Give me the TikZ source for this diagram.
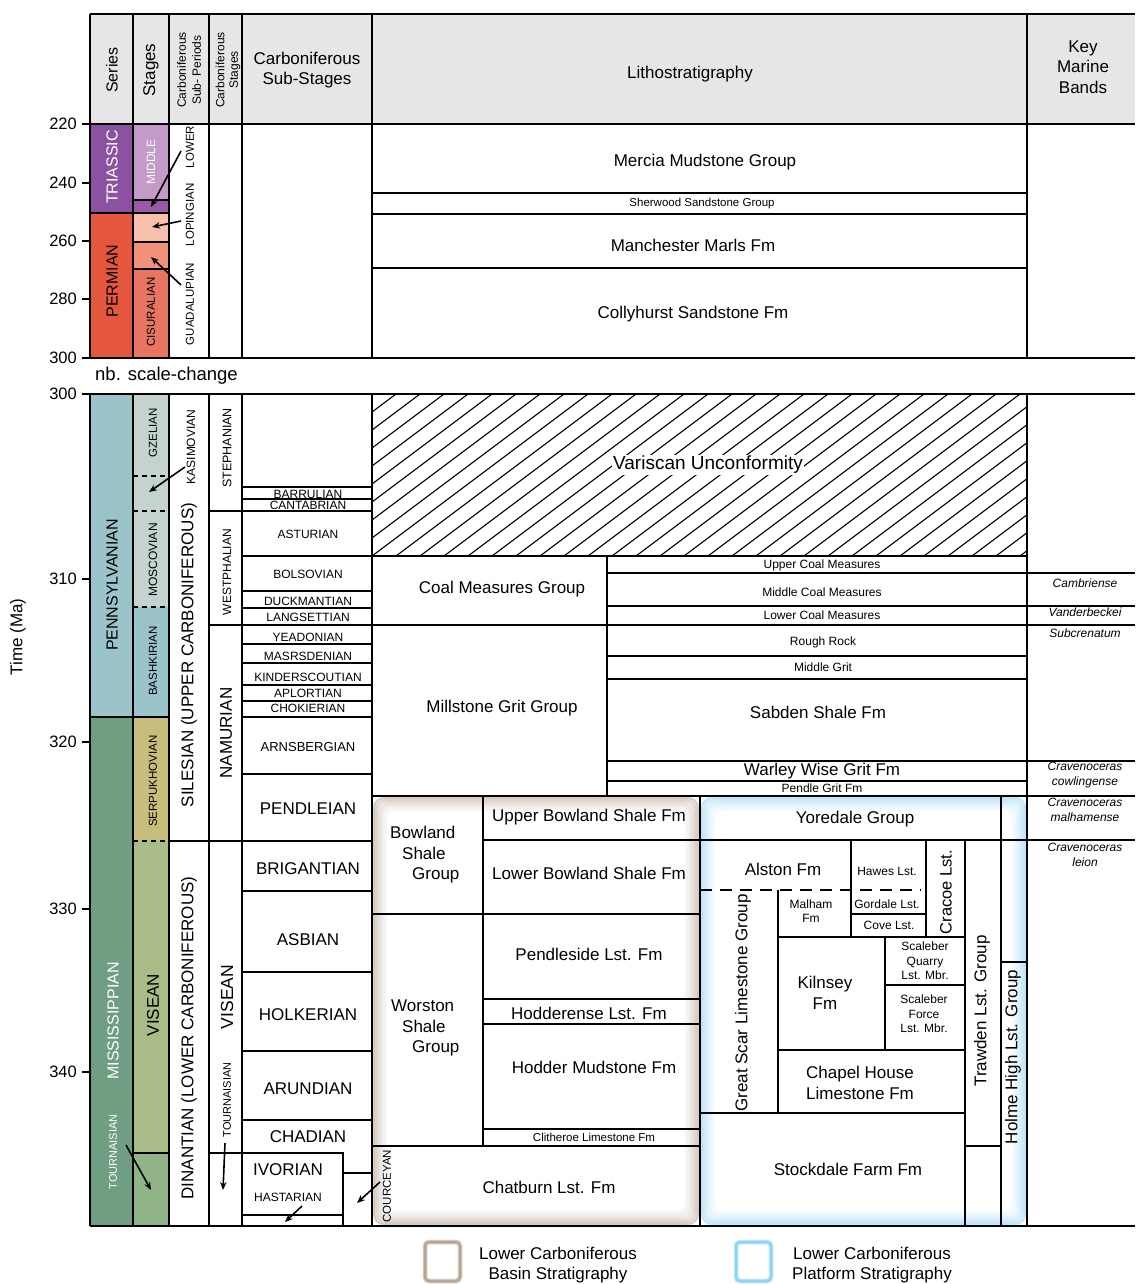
\documentclass[tikz,border=0pt]{standalone}
\usepackage{fontspec}
\setmainfont{Liberation Sans}
\usetikzlibrary{arrows.meta}
\definecolor{hdr}{HTML}{E6E6E6}
\definecolor{triS}{HTML}{8C52A1}
\definecolor{triM}{HTML}{C49AC9}
\definecolor{triL}{HTML}{9A5AA8}
\definecolor{perS}{HTML}{E5573D}
\definecolor{perL}{HTML}{F7BFAC}
\definecolor{perG}{HTML}{F2917A}
\definecolor{perC}{HTML}{E87562}
\definecolor{penn}{HTML}{9AC4CA}
\definecolor{gze}{HTML}{C5D3D0}
\definecolor{miss}{HTML}{6F9E83}
\definecolor{serp}{HTML}{C8BE7C}
\definecolor{vis}{HTML}{A9BB87}
\definecolor{tou}{HTML}{90B488}
\definecolor{basin}{HTML}{B8A490}
\definecolor{plat}{HTML}{8ED4F4}
\newcommand\FsBig{\fontsize{17}{20.5}\selectfont}
\newcommand\FsMid{\fontsize{16}{19}\selectfont}
\newcommand\FsSm{\fontsize{12}{14.5}\selectfont}
\newcommand\FsXs{\fontsize{11.5}{13.5}\selectfont}
\tikzset{
  ln/.style={line width=1.9pt,black},
  dots/.style={line width=1.9pt,black,dash pattern=on 5pt off 4pt},
  dsh/.style={line width=1.8pt,black,dash pattern=on 12pt off 8pt},
  hatchln/.style={line width=1.1pt,black},
  txtB/.style={inner sep=0pt,font=\FsBig},
  txtM/.style={inner sep=0pt,font=\FsMid},
  txtS/.style={inner sep=0pt,font=\FsSm},
  txtX/.style={inner sep=0pt,font=\FsXs},
  keyt/.style={inner sep=0pt,font=\FsSm\itshape,align=center},
  rot/.style={rotate=90},
  arw/.style={line width=1.6pt,-{Stealth[length=8pt,width=6.5pt]}},
}
\begin{document}
\begin{tikzpicture}[x=1pt,y=-1pt]
\useasboundingbox (0,0) rectangle (1135,1284);
\fill[white] (0,0) rectangle (1135,1284);
% ---------- fills ----------
\fill[hdr] (90,14) rectangle (1135,124);
\fill[triS] (90,124) rectangle (133,213);
\fill[perS] (90,213) rectangle (133,358);
\fill[triM] (133,124) rectangle (169,200);
\fill[triL] (133,200) rectangle (169,213);
\fill[perL] (133,213) rectangle (169,242);
\fill[perG] (133,242) rectangle (169,269);
\fill[perC] (133,269) rectangle (169,358);
\fill[penn] (90,394) rectangle (133,717);
\fill[gze] (133,394) rectangle (169,607);
\fill[penn] (133,607) rectangle (169,717);
\fill[miss] (90,717) rectangle (133,1226);
\fill[serp] (133,717) rectangle (169,841);
\fill[vis] (133,841) rectangle (169,1153);
\fill[tou] (133,1153) rectangle (169,1226);
% ---------- glows ----------
\foreach \i/\o in {0/0.55,1/0.45,2/0.36,3/0.28,4/0.2,5/0.13,6/0.07}{
  \draw[basin,line width=2.2pt,opacity=\o,rounded corners=10pt]
    ({374+2*\i},{798+2*\i}) rectangle ({698-2*\i},{1224-2*\i});
  \draw[plat,line width=2.2pt,opacity=\o,rounded corners=10pt]
    ({702+2*\i},{798+2*\i}) rectangle ({1025-2*\i},{1224-2*\i});
}
% ---------- hatch ----------
\begin{scope}
\clip (372,394) rectangle (1027,556);
\foreach \k in {-9,...,27}{
  \draw[hatchln] ({372+24*\k},556) -- ++(216,-162);
}
\end{scope}
% ---------- upper frame ----------
\draw[ln] (90,14) -- (1135,14);
\draw[ln] (82,124) -- (1135,124);
\foreach \x in {90,133,169,209,242,372,1027}{\draw[ln] (\x,14) -- (\x,358);}
\draw[ln] (82,183) -- (90,183) (82,241) -- (90,241) (82,299) -- (90,299);
\draw[ln] (82,358) -- (1135,358);
\draw[ln] (90,213) -- (169,213) (133,200) -- (169,200) (133,242) -- (169,242) (133,269) -- (169,269);
\draw[ln] (372,193) -- (1027,193) (372,214) -- (1027,214) (372,268) -- (1027,268);
% ---------- lower frame ----------
\draw[ln] (82,394) -- (1135,394);
\draw[ln] (90,1226) -- (1135,1226);
\foreach \x in {90,133,169,209,242,372,1027}{\draw[ln] (\x,394) -- (\x,1226);}
\draw[ln] (82,579) -- (90,579) (82,742) -- (90,742) (82,909) -- (90,909) (82,1072) -- (90,1072);
\draw[ln] (90,717) -- (169,717) (133,1153) -- (169,1153);
\draw[dots] (133,476) -- (169,476) (133,511) -- (169,511) (133,607) -- (169,607) (133,841) -- (169,841);
\draw[ln] (209,511) -- (372,511) (169,841) -- (372,841) (209,625) -- (1135,625);
\foreach \y in {487,499,556,591,608,644,663,685,701,717,774,891,972,1051,1120}{\draw[ln] (242,\y) -- (372,\y);}
\draw[ln] (209,1153) -- (343,1153) -- (343,1226) (242,1215) -- (343,1215) (343,1173) -- (372,1173);
% litho lower
\draw[ln] (372,556) -- (1027,556) (607,556) -- (607,796);
\draw[ln] (607,573) -- (1135,573) (607,606) -- (1135,606);
\draw[ln] (607,656) -- (1027,656) (607,679) -- (1027,679);
\draw[ln] (607,761) -- (1135,761) (607,781) -- (1027,781);
\draw[ln] (372,796) -- (1135,796);
% basin
\draw[ln] (483,796) -- (483,1146) (700,796) -- (700,1226);
\draw[ln] (483,840) -- (1135,840);
\draw[ln] (372,914) -- (700,914) (483,999) -- (700,999) (483,1024) -- (700,1024) (483,1129) -- (700,1129) (372,1146) -- (700,1146);
% platform
\draw[ln] (1001,796) -- (1001,1226) (1001,962) -- (1027,962);
\draw[ln] (851,840) -- (851,937) (926,840) -- (926,937) (965,840) -- (965,1226);
\draw[dsh] (700,890) -- (921,890);
\draw[ln] (778,890) -- (778,1113) (851,914) -- (926,914) (778,937) -- (965,937);
\draw[ln] (885,937) -- (885,1050) (885,985) -- (965,985) (778,1050) -- (965,1050);
\draw[ln] (700,1113) -- (965,1113) (965,1146) -- (1001,1146);
% ---------- header text ----------
\node[txtM,rot] (hSer) at (112,70) {Series};
\node[txtB,rot] (hStg) at (151,70) {Stages};
\node[inner sep=0pt,rot,align=center,font=\fontsize{12}{15}\selectfont] (hSubP) at (189,70) {Carboniferous\\Sub- Periods};
\node[inner sep=0pt,rot,align=center,font=\fontsize{12}{13.5}\selectfont] (hCStg) at (228,70) {Carboniferous\\Stages};
\node[txtB,align=center] (hSubS) at (307,70) {Carboniferous\\Sub-Stages};
\node[txtB] (hLit) at (690,74) {Lithostratigraphy};
\node[txtB,align=center] (hKey) at (1083,67) {Key\\Marine\\Bands};
% ---------- axis ----------
\foreach \y/\t [count=\n] in {124/220,183/240,241/260,299/280,358/300,394/300,579/310,742/320,909/330,1072/340}{
  \node[inner sep=0pt,anchor=east,font=\fontsize{16.5}{18}\selectfont] (ax\n) at (77,\y) {\t};
}
\node[inner sep=0pt,anchor=west,font=\fontsize{18.5}{20}\selectfont] (nb) at (95,376) {nb. scale-change};
\node[inner sep=0pt,rot,font=\fontsize{17}{20}\selectfont] (time) at (18,637) {Time (Ma)};
% ---------- series / stages ----------
\node[txtM,rot,text=white] (tTri) at (112,167) {TRIASSIC};
\node[txtM,rot] (tPer) at (112,281) {PERMIAN};
\node[txtS,rot,text=white] (tMid) at (151,162) {MIDDLE};
\node[txtX,rot] (tCis) at (151,312) {CISURALIAN};
\node[txtM,rot] (tPen) at (112,585) {PENNSYLVANIAN};
\node[txtM,rot,text=white] (tMis) at (113,1021) {MISSISSIPPIAN};
\node[inner sep=0pt,rot,text=white,font=\fontsize{11}{13}\selectfont] (tTouS) at (113,1152) {TOURNAISIAN};
\node[txtX,rot] (tGze) at (153,433) {GZELIAN};
\node[txtS,rot] (tMos) at (153,560) {MOSCOVIAN};
\node[txtX,rot] (tBas) at (153,661) {BASHKIRIAN};
\node[txtX,rot] (tSer) at (153,781) {SERPUKHOVIAN};
\node[txtB,rot] (tVis) at (153,1005) {VISEAN};
% sub-periods
\node[txtX,rot] (tLow) at (190,147) {LOWER};
\node[txtX,rot] (tLop) at (190,215) {LOPINGIAN};
\node[txtX,rot] (tGua) at (190,304) {GUADALUPIAN};
\node[txtS,rot] (tKas) at (191,447) {KASIMOVIAN};
\node[txtB,rot] (tSil) at (189,655) {SILESIAN (UPPER CARBONIFEROUS)};
\node[txtB,rot] (tDin) at (189,1038) {DINANTIAN (LOWER CARBONIFEROUS)};
% carboniferous stages
\node[inner sep=0pt,rot,font=\fontsize{12.5}{14}\selectfont] (tSte) at (227,448) {STEPHANIAN};
\node[txtS,rot] (tWes) at (227,572) {WESTPHALIAN};
\node[txtB,rot] (tNam) at (226,733) {NAMURIAN};
\node[inner sep=0pt,rot,font=\fontsize{17.5}{20}\selectfont] (tVis2) at (227,997) {VISEAN};
\node[inner sep=0pt,rot,font=\fontsize{11}{13}\selectfont] (tTouC) at (227,1100) {TOURNAISIAN};
% sub-stages
\node[txtS] (sBar) at (308,494) {BARRULIAN};
\node[txtS] (sCan) at (308,505) {CANTABRIAN};
\node[txtS] (sAst) at (308,534) {ASTURIAN};
\node[txtS] (sBol) at (308,574) {BOLSOVIAN};
\node[txtS] (sDuc) at (308,601) {DUCKMANTIAN};
\node[txtS] (sLan) at (308,617) {LANGSETTIAN};
\node[txtS] (sYea) at (308,637) {YEADONIAN};
\node[txtS] (sMar) at (308,656) {MASRSDENIAN};
\node[txtS] (sKin) at (308,677) {KINDERSCOUTIAN};
\node[txtS] (sApl) at (308,693) {APLORTIAN};
\node[txtS] (sCho) at (308,708) {CHOKIERIAN};
\node[inner sep=0pt,font=\fontsize{13}{15}\selectfont] (sArn) at (308,747) {ARNSBERGIAN};
\node[txtB] (sPen) at (308,809) {PENDLEIAN};
\node[txtB] (sBri) at (308,869) {BRIGANTIAN};
\node[txtB] (sAsb) at (308,940) {ASBIAN};
\node[txtB] (sHol) at (308,1015) {HOLKERIAN};
\node[txtB] (sAru) at (308,1089) {ARUNDIAN};
\node[txtB] (sCha) at (308,1137) {CHADIAN};
\node[txtB] (sIvo) at (288,1170) {IVORIAN};
\node[txtS] (sHas) at (288,1197) {HASTARIAN};
\node[txtX,rot] (sCou) at (387,1186) {COURCEYAN};
% ---------- litho upper ----------
\node[txtB] (lMer) at (705,162) {Mercia Mudstone Group};
\node[txtX] (lShe) at (702,204) {Sherwood Sandstone Group};
\node[txtB] (lMan) at (693,245) {Manchester Marls Fm};
\node[txtB] (lCol) at (693,314) {Collyhurst Sandstone Fm};
% ---------- litho lower ----------
\node[inner sep=1.5pt,fill=white,font=\fontsize{19}{22}\selectfont] (lVar) at (708,465) {Variscan Unconformity};
\node[txtB] (lCoal) at (502,589) {Coal Measures Group};
\node[txtS] (lUCM) at (822,565) {Upper Coal Measures};
\node[txtS] (lMCM) at (822,592) {Middle Coal Measures};
\node[txtS] (lLCM) at (822,615) {Lower Coal Measures};
\node[txtS] (lRR) at (823,642) {Rough Rock};
\node[txtS] (lMG) at (823,667) {Middle Grit};
\node[txtB] (lMil) at (502,708) {Millstone Grit Group};
\node[txtB] (lSab) at (818,712) {Sabden Shale Fm};
\node[txtB] (lWar) at (822,771) {Warley Wise Grit Fm};
\node[txtS] (lPG) at (822,788) {Pendle Grit Fm};
\node[txtB,anchor=west,align=left] (lBow) at (390,855) {Bowland\\\hspace*{12pt}Shale\\\hspace*{22pt}Group};
\node[txtB] (lUBS) at (589,817) {Upper Bowland Shale Fm};
\node[txtB] (lLBS) at (589,873) {Lower Bowland Shale Fm};
\node[txtB,anchor=west,align=left] (lWor) at (391,1028) {Worston\\\hspace*{11pt}Shale\\\hspace*{21pt}Group};
\node[txtB] (lPen) at (589,954) {Pendleside Lst. Fm};
\node[txtB] (lHod) at (589,1013) {Hodderense Lst. Fm};
\node[txtB] (lHM) at (594,1067) {Hodder Mudstone Fm};
\node[txtX] (lCli) at (594,1137) {Clitheroe Limestone Fm};
\node[txtB] (lCha) at (549,1187) {Chatburn Lst. Fm};
\node[txtB] (lYor) at (855,819) {Yoredale Group};
\node[txtB] (lAls) at (783,869) {Alston Fm};
\node[txtS] (lHaw) at (887,871) {Hawes Lst.};
\node[inner sep=0pt,rot,font=\fontsize{16.5}{19}\selectfont] (lCra) at (946,892) {Cracoe Lst.};
\node[txtB,rot] (lTra) at (982,1011) {Trawden Lst. Group};
\node[txtB,rot] (lHol) at (1013,1057) {Holme High Lst. Group};
\node[txtB,rot] (lGSL) at (743,1003) {Great Scar Limestone Group};
\node[txtS,align=center] (lMal) at (811,911) {Malham\\Fm};
\node[txtS] (lGor) at (887,904) {Gordale Lst.};
\node[txtS] (lCov) at (889,925) {Cove Lst.};
\node[txtB,align=center] (lKil) at (825,993) {Kilnsey\\Fm};
\node[txtS,align=center] (lSQ) at (925,961) {Scaleber\\Quarry\\Lst. Mbr.};
\node[txtS,align=center] (lSF) at (924,1014) {Scaleber\\Force\\Lst. Mbr.};
\node[txtB,align=center] (lCH) at (860,1083) {Chapel House\\Limestone Fm};
\node[txtB] (lSto) at (848,1169) {Stockdale Farm Fm};
% ---------- key marine bands ----------
\node[keyt] (kCam) at (1085,583) {Cambriense};
\node[keyt] (kVan) at (1085,612) {Vanderbeckei};
\node[keyt] (kSub) at (1085,633) {Subcrenatum};
\node[keyt] (kCow) at (1085,775) {Cravenoceras\\cowlingense};
\node[keyt] (kMal) at (1085,810) {Cravenoceras\\malhamense};
\node[keyt] (kLei) at (1085,855) {Cravenoceras\\leion};
% ---------- arrows ----------
\coordinate (aLowS) at (181,151); \coordinate (aLowE) at (151,207);
\coordinate (aLopS) at (181,221); \coordinate (aLopE) at (152,227);
\coordinate (aGuaS) at (181,285); \coordinate (aGuaE) at (151,257);
\coordinate (aKasS) at (185,467); \coordinate (aKasE) at (149,492);
\coordinate (aTsS) at (126,1145); \coordinate (aTsE) at (151,1190);
\coordinate (aTcS) at (225,1143); \coordinate (aTcE) at (223,1190);
\coordinate (aHasS) at (302,1206); \coordinate (aHasE) at (285,1222);
\coordinate (aCouS) at (380,1182); \coordinate (aCouE) at (357,1203);
\draw[arw] (aLowS) -- (aLowE);
\draw[arw] (aLopS) -- (aLopE);
\draw[arw] (aGuaS) -- (aGuaE);
\draw[arw] (aKasS) -- (aKasE);
\draw[arw] (aTsS) -- (aTsE);
\draw[arw] (aTcS) -- (aTcE);
\draw[arw] (aHasS) -- (aHasE);
\draw[arw] (aCouS) -- (aCouE);
% ---------- legend ----------
\foreach \w/\o in {5/0.35,3.5/0.6,2/0.9}{
  \draw[basin,line width=\w pt,opacity=\o,rounded corners=4pt] (425,1242) rectangle (460,1281);
  \draw[plat,line width=\w pt,opacity=\o,rounded corners=4pt] (736,1242) rectangle (771,1281);
}
\node[txtB,align=center] (legB) at (558,1265) {Lower Carboniferous\\Basin Stratigraphy};
\node[txtB,align=center] (legP) at (872,1265) {Lower Carboniferous\\Platform Stratigraphy};
\end{tikzpicture}
\end{document}
